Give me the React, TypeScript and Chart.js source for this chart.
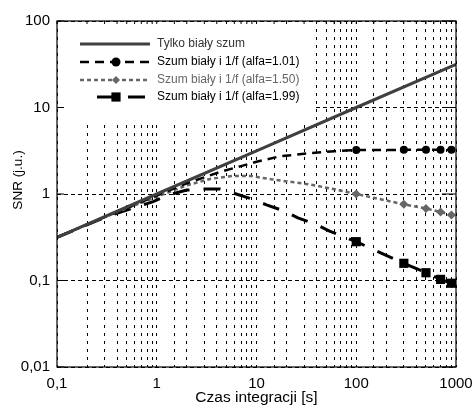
import React, { useEffect, useRef } from "react";
import { Chart, registerables } from "chart.js";

Chart.register(...registerables);

// ---- data ----
const tWhite = [0.1, 1, 10, 100, 1000];
const snrWhite = [0.316, 1.0, 3.16, 10.0, 31.6];

const tA101 = [0.1, 0.3, 0.6, 1, 2, 4.3, 7, 10, 17, 30, 60, 100, 300, 500, 700, 900];
const snrA101 = [0.316, 0.54, 0.75, 0.96, 1.33, 1.8, 2.1, 2.36, 2.72, 2.92, 3.12, 3.22, 3.24, 3.25, 3.25, 3.25];

const tA150 = [0.1, 0.3, 0.6, 1, 2, 3.5, 5.9, 8.6, 14, 21, 33, 59, 100, 300, 500, 700, 900];
const snrA150 = [0.316, 0.54, 0.74, 0.93, 1.26, 1.5, 1.62, 1.62, 1.48, 1.39, 1.3, 1.14, 1.0, 0.76, 0.68, 0.62, 0.57];

const tA199 = [0.1, 0.32, 0.63, 0.92, 1.3, 2, 2.8, 4.3, 5.8, 8.6, 12.6, 18.6, 26, 38.6, 54, 68, 100, 300, 500, 700, 900];
const snrA199 = [0.316, 0.55, 0.71, 0.815, 0.97, 1.11, 1.14, 1.14, 1.03, 0.89, 0.75, 0.64, 0.53, 0.45, 0.373, 0.336, 0.281, 0.158, 0.123, 0.103, 0.093];

const markerTimes = [100, 300, 500, 700, 900];

const seriesLabels = [
  "Tylko biały szum",
  "Szum biały i 1/f (alfa=1.01)",
  "Szum biały i 1/f (alfa=1.50)",
  "Szum biały i 1/f (alfa=1.99)",
];
const legendTextColors = ["#333333", "#000000", "#666666", "#000000"];

const xTitle = "Czas integracji [s]";
const yTitle = "SNR (j.u.)";

const FONT = "'Liberation Sans', Arial, sans-serif";

const toPoints = (xs: number[], ys: number[]) => xs.map((x, i) => ({ x, y: ys[i] }));
const isDecade = (v: number) => Math.abs(Math.log10(v) - Math.round(Math.log10(v))) < 1e-6;
const fmt = (v: number) => String(Number(v.toPrecision(6))).replace(".", ",");
const markerRadius = (r: number) => (ctx: any) => {
  const raw = ctx.raw as any;
  return raw && markerTimes.includes(raw.x) ? r : 0;
};

function drawMarker(ctx: CanvasRenderingContext2D, style: string, r: number, x: number, y: number) {
  ctx.beginPath();
  if (style === "circle") {
    ctx.arc(x, y, r, 0, Math.PI * 2);
  } else if (style === "rectRot") {
    ctx.moveTo(x - r, y);
    ctx.lineTo(x, y - r);
    ctx.lineTo(x + r, y);
    ctx.lineTo(x, y + r);
    ctx.closePath();
  } else {
    const s = r * Math.SQRT1_2;
    ctx.rect(x - s, y - s, 2 * s, 2 * s);
  }
  ctx.fill();
}

const legendPlugin = {
  id: "customLegend",
  beforeDatasetsDraw(chart: any) {
    const { ctx, chartArea } = chart;
    const L = chartArea.left;
    const T = chartArea.top;
    ctx.save();
    ctx.fillStyle = "#ffffff";
    ctx.fillRect(L + 1, T + 1, 256, 98);
    const rowsY = [23, 41, 59, 76];
    chart.data.datasets.forEach((ds: any, i: number) => {
      const y = T + rowsY[i];
      const x0 = i === 3 ? L + 40 : L + 23;
      const x1 = L + 93;
      ctx.strokeStyle = ds.borderColor;
      ctx.lineWidth = ds.borderWidth;
      ctx.setLineDash(ds.borderDash || []);
      ctx.beginPath();
      ctx.moveTo(x0, y);
      ctx.lineTo(x1, y);
      ctx.stroke();
      ctx.setLineDash([]);
      if (ds.legendPointStyle) {
        ctx.fillStyle = ds.pointBackgroundColor;
        drawMarker(ctx, ds.legendPointStyle, ds.legendPointRadius, L + 59, y);
      }
      ctx.fillStyle = legendTextColors[i];
      ctx.font = `12px ${FONT}`;
      ctx.textBaseline = "middle";
      ctx.textAlign = "left";
      ctx.fillText(seriesLabels[i], L + 100, y);
    });
    ctx.restore();
  },
};

const framePlugin = {
  id: "frame",
  afterDraw(chart: any) {
    const { ctx, chartArea } = chart;
    const { left, right, top, bottom } = chartArea;
    ctx.save();
    ctx.strokeStyle = "#000";
    ctx.lineWidth = 1.2;
    ctx.setLineDash([]);
    ctx.strokeRect(left, top, right - left, bottom - top);
    const ys = chart.scales.y;
    ys.ticks.forEach((t: any) => {
      if (!isDecade(t.value)) return;
      const py = ys.getPixelForValue(t.value);
      ctx.beginPath();
      ctx.moveTo(left, py);
      ctx.lineTo(left + 7, py);
      ctx.moveTo(right - 14, py);
      ctx.lineTo(right, py);
      ctx.stroke();
    });
    const xs = chart.scales.x;
    ctx.lineWidth = 1;
    xs.ticks.forEach((t: any) => {
      const px = xs.getPixelForValue(t.value);
      ctx.beginPath();
      ctx.moveTo(px, top);
      ctx.lineTo(px, top + 3);
      ctx.stroke();
    });
    ctx.fillStyle = "#000";
    ctx.textAlign = "center";
    ctx.textBaseline = "middle";
    ctx.font = `15.5px ${FONT}`;
    ctx.fillText(xTitle, (left + right) / 2, 398);
    ctx.translate(18, 180);
    ctx.rotate(-Math.PI / 2);
    ctx.font = `13.5px ${FONT}`;
    ctx.fillText(yTitle, 0, 0);
    ctx.restore();
  },
};

export default function App() {
  const ref = useRef<HTMLCanvasElement | null>(null);
  useEffect(() => {
    document.body.style.margin = "0";
    if (!ref.current) return;
    const chart = new Chart(ref.current, {
      type: "line",
      data: {
        datasets: [
          {
            label: seriesLabels[0],
            data: toPoints(tWhite, snrWhite),
            borderColor: "#404040",
            borderWidth: 3,
            pointRadius: 0,
            fill: false,
          } as any,
          {
            label: seriesLabels[1],
            data: toPoints(tA101, snrA101),
            borderColor: "#000000",
            borderWidth: 2.5,
            borderDash: [9, 6],
            pointStyle: "circle",
            pointRadius: markerRadius(4),
            pointBackgroundColor: "#000000",
            pointBorderColor: "#000000",
            pointBorderWidth: 0,
            legendPointStyle: "circle",
            legendPointRadius: 4.5,
          },
          {
            label: seriesLabels[2],
            data: toPoints(tA150, snrA150),
            borderColor: "#666666",
            borderWidth: 2.5,
            borderDash: [4, 3],
            pointStyle: "rectRot",
            pointRadius: markerRadius(4.5),
            pointBackgroundColor: "#666666",
            pointBorderColor: "#666666",
            pointBorderWidth: 0,
            legendPointStyle: "rectRot",
            legendPointRadius: 4,
          },
          {
            label: seriesLabels[3],
            data: toPoints(tA199, snrA199),
            borderColor: "#000000",
            borderWidth: 3,
            borderDash: [17, 14],
            pointStyle: "rect",
            pointRadius: markerRadius(6.5),
            pointBackgroundColor: "#000000",
            pointBorderColor: "#000000",
            pointBorderWidth: 0,
            legendPointStyle: "rect",
            legendPointRadius: 6.5,
          },
        ],
      },
      options: {
        animation: false,
        responsive: false,
        devicePixelRatio: 1,
        layout: { padding: { left: 0, top: 21, right: 16, bottom: 0 } },
        plugins: { legend: { display: false }, tooltip: { enabled: false } },
        elements: { line: { tension: 0 } },
        scales: {
          x: {
            type: "logarithmic",
            min: 0.1,
            max: 1000,
            afterFit: (s: any) => {
              s.height = 43;
              s.paddingLeft = 0;
              s.paddingRight = 0;
            },
            border: { display: false, dash: [3, 5] },
            grid: { color: "#000000", lineWidth: 1, drawTicks: false },
            ticks: {
              autoSkip: false,
              maxRotation: 0,
              padding: 8,
              color: "#000",
              font: { family: FONT, size: 15 },
              callback: (v: any) => (isDecade(Number(v)) ? fmt(Number(v)) : ""),
            },
            title: { display: false },
          },
          y: {
            type: "logarithmic",
            min: 0.01,
            max: 100,
            afterFit: (s: any) => {
              s.width = 57;
            },
            border: { display: false, dash: [4, 3] },
            grid: {
              color: (c: any) => (c.tick && isDecade(c.tick.value) ? "#000000" : "rgba(0,0,0,0)"),
              lineWidth: 1,
              drawTicks: false,
            },
            ticks: {
              autoSkip: false,
              padding: 7,
              color: "#000",
              font: { family: FONT, size: 15 },
              callback: (v: any) => (isDecade(Number(v)) ? fmt(Number(v)) : ""),
            },
            title: { display: false },
          },
        },
      } as any,
      plugins: [legendPlugin, framePlugin],
    });
    return () => chart.destroy();
  }, []);
  return (
    <div style={{ width: 472, height: 410 }}>
      <canvas ref={ref} width={472} height={410} style={{ display: "block" }} />
    </div>
  );
}
